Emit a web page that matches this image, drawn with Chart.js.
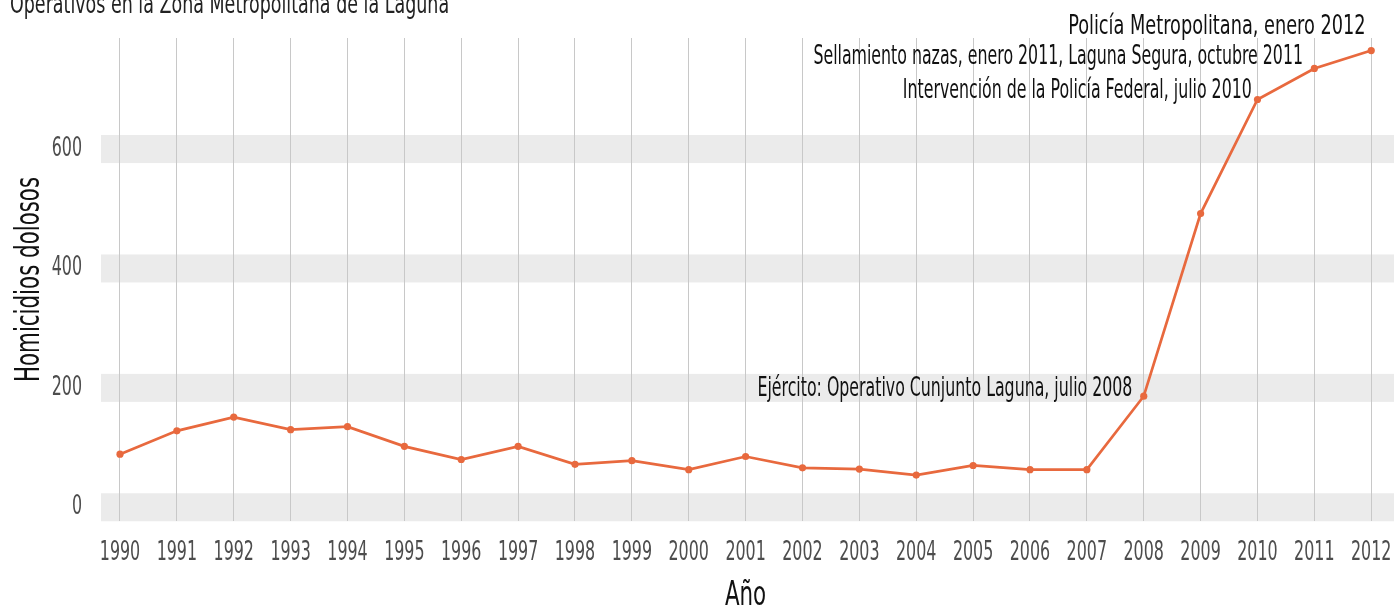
<!DOCTYPE html>
<html>
<head>
<meta charset="utf-8">
<script src="https://cdn.jsdelivr.net/npm/chart.js@4.4.1/dist/chart.umd.min.js"></script>
<style>
  body { margin: 0; background: #fff; }
  #wrap { width: 1394px; height: 606px; position: relative; }
</style>
</head>
<body>
<div id="wrap"><canvas id="homicidesChart"></canvas></div>
<script>
const years = [1990, 1991, 1992, 1993, 1994, 1995, 1996, 1997, 1998, 1999, 2000, 2001,
               2002, 2003, 2004, 2005, 2006, 2007, 2008, 2009, 2010, 2011, 2012];
const homicides = [89, 128, 151, 130, 135, 102, 80, 102, 72, 78, 63, 85,
                   66, 64, 54, 70, 63, 63, 186, 492, 683, 735, 765];
const yTicks = [0, 200, 400, 600];

// event labels (x in years, y in homicides)
const annText = [
    'Ejército: Operativo Cunjunto Laguna, julio 2008',
    'Intervención de la Policía Federal, julio 2010',
    'Sellamiento nazas, enero 2011, Laguna Segura, octubre 2011',
    'Policía Metropolitana, enero 2012'
];
const annX = [2007.8, 2009.9, 2010.8, 2011.9];
const annY = [198, 698, 754, 805];

const FONT = "'DejaVu Sans Condensed', 'DejaVu Sans', sans-serif";

const ctx = document.getElementById('homicidesChart').getContext('2d');

// the original uses a condensed DIN-like face; squeeze the text horizontally
const rawFill = CanvasRenderingContext2D.prototype.fillText;
ctx.fillText = function (text, x, y, maxWidth) {
    const sx = this._sx || (/^[\d\s]+$/.test(String(text)) ? 0.68 : 0.72);
    this.save();
    this.translate(x, y);
    this.scale(sx, 1);
    if (maxWidth === undefined) {
        rawFill.call(this, text, 0, 0);
    } else {
        rawFill.call(this, text, 0, 0, maxWidth / sx);
    }
    this.restore();
};

// grey bands behind each y tick
const bandPlugin = {
    id: 'bands',
    beforeDraw(chart) {
        const { ctx, chartArea, scales } = chart;
        ctx.save();
        ctx.fillStyle = '#ebebeb';
        yTicks.forEach(v => {
            const y = scales.y.getPixelForValue(v);
            ctx.fillRect(chartArea.left, y - 14, chart.width - chartArea.left, 28);
        });
        ctx.restore();
    }
};

const textPlugin = {
    id: 'texts',
    afterDraw(chart) {
        const { ctx, scales } = chart;
        ctx.save();
        ctx.fillStyle = '#111';
        ctx.font = '27px ' + FONT;
        ctx.textAlign = 'right';
        ctx.textBaseline = 'middle';
        ctx._sx = 0.66;
        annText.forEach((t, i) => {
            ctx._sx = t.startsWith('Policía') ? 0.73 : 0.65;
            ctx.fillText(t, scales.x.getPixelForValue(annX[i]), scales.y.getPixelForValue(annY[i]));
        });
        // title, mostly cut off at the top
        ctx._sx = 0.72;
        ctx.textAlign = 'left';
        ctx.textBaseline = 'alphabetic';
        ctx.fillStyle = '#222';
        ctx.font = '27px ' + FONT;
        ctx.fillText('Operativos en la Zona Metropolitana de la Laguna', 10, 13);
        ctx._sx = 0;
        ctx.restore();
    }
};

new Chart(ctx, {
    type: 'line',
    data: {
        datasets: [{
            label: 'Homicidios dolosos',
            data: years.map((yr, i) => ({ x: yr, y: homicides[i] })),
            borderColor: '#e8693e',
            backgroundColor: '#e8693e',
            borderWidth: 2.7,
            pointRadius: 3.6,
            pointBorderWidth: 0,
            tension: 0
        }]
    },
    options: {
        responsive: true,
        maintainAspectRatio: false,
        animation: false,
        layout: { padding: { top: 38, right: 0, left: 0, bottom: 0 } },
        plugins: {
            legend: { display: false },
            tooltip: { enabled: false }
        },
        scales: {
            x: {
                type: 'linear',
                min: 1989.666,
                max: 2012.33,
                afterBuildTicks: s => { s.ticks = years.map(v => ({ value: v })); },
                afterFit: s => {
                    s.height = 85;
                    s.paddingLeft = 0;
                    s.paddingRight = 0;
                },
                ticks: {
                    autoSkip: false,
                    maxRotation: 0,
                    color: '#4d4d4d',
                    font: { family: FONT, size: 26 },
                    padding: 17,
                    callback: v => String(v)
                },
                grid: { color: '#c8c8c8', lineWidth: 1, drawTicks: false },
                border: { display: false },
                title: {
                    display: true,
                    text: 'Año',
                    color: '#111',
                    font: { family: FONT, size: 33, lineHeight: 1 },
                    padding: { top: 0, bottom: -7 }
                }
            },
            y: {
                min: -23,
                max: 786,
                afterBuildTicks: s => { s.ticks = yTicks.map(v => ({ value: v })); },
                afterFit: s => { s.width = 101; },
                ticks: {
                    color: '#4d4d4d',
                    font: { family: FONT, size: 26 },
                    padding: 19
                },
                grid: { display: false, drawTicks: false },
                border: { display: false },
                title: {
                    display: true,
                    text: 'Homicidios dolosos',
                    color: '#111',
                    font: { family: FONT, size: 33, lineHeight: 1 },
                    padding: { top: 14, bottom: 0 }
                }
            }
        }
    },
    plugins: [bandPlugin, textPlugin]
});
</script>
</body>
</html>
